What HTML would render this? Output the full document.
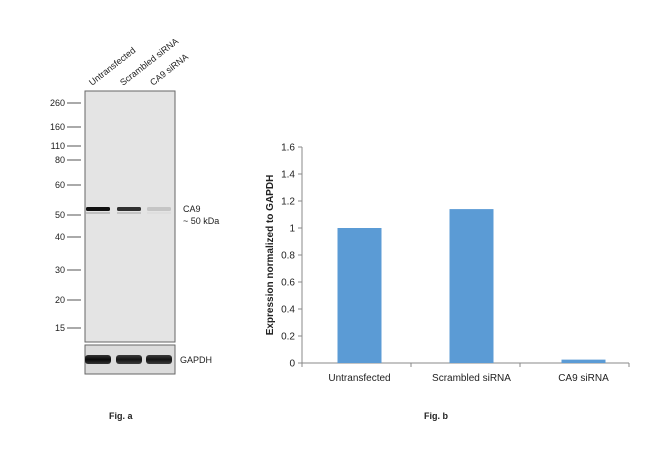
<!DOCTYPE html>
<html><head><meta charset="utf-8"><style>
body{margin:0;background:#fff;font-family:"Liberation Sans",Arial,sans-serif;}
#root{position:relative;width:650px;height:460px;overflow:hidden;background:#fff}
</style></head><body>
<div id="root">
<svg width="650" height="460" xmlns="http://www.w3.org/2000/svg" font-family="Liberation Sans, Arial, sans-serif">
<defs>
<linearGradient id="bandg" x1="0" y1="0" x2="0" y2="1"><stop offset="0" stop-color="#333"/><stop offset="0.5" stop-color="#0a0a0a"/><stop offset="1" stop-color="#333"/></linearGradient>
</defs>
<g>
<rect x="85" y="91" width="90" height="251" fill="#e4e4e4" stroke="#666" stroke-width="1"/>
<rect x="85" y="345" width="90" height="29" fill="#dcdcdc" stroke="#666" stroke-width="1"/>
<g id="lanelabels" font-size="9" fill="#222"></g>
<g id="markers" font-size="9" fill="#222"></g>
<g id="bands"></g>
<text x="183" y="212" font-size="9" fill="#222">CA9</text>
<text x="183" y="224" font-size="9" fill="#222">~ 50 kDa</text>
<text x="180" y="363" font-size="9" fill="#222">GAPDH</text>
<text x="109" y="419" font-size="9" font-weight="bold" fill="#222">Fig. a</text>
</g>
<g id="chart"></g>
<text x="424" y="419" font-size="9" font-weight="bold" fill="#222">Fig. b</text>
</svg>
</div>
<script>
const categories=["Untransfected","Scrambled siRNA","CA9 siRNA"];
const values=[1.0,1.14,0.025];
const yTicks=[0,0.2,0.4,0.6,0.8,1,1.2,1.4,1.6];
const markerLabels=["260","160","110","80","60","50","40","30","20","15"];
const markerY=[103,127,146,160,185,215,237,270,300,328];
const bandIntensity=[1.0,0.85,0.15];
const gapdhIntensity=[1.0,0.95,0.95];
const NS="http://www.w3.org/2000/svg";
function mk(t,a,p){const e=document.createElementNS(NS,t);for(const k in a)e.setAttribute(k,a[k]);p.appendChild(e);return e;}
// blot
const lanesX=[98,129,159];
const ll=document.getElementById('lanelabels');
categories.forEach((c,i)=>{const t=mk('text',{x:lanesX[i]-6,y:86,transform:`rotate(-38 ${lanesX[i]-6} 86)`},ll);t.textContent=c;

});
const mg=document.getElementById('markers');
markerLabels.forEach((m,i)=>{const t=mk('text',{x:65,y:markerY[i]+3,'text-anchor':'end'},mg);t.textContent=m;


const l=mk('line',{x1:67,x2:81,y1:markerY[i],y2:markerY[i],stroke:'#555','stroke-width':1},mg);

});
const bg=document.getElementById('bands');
bandIntensity.forEach((v,i)=>{const r=mk('rect',{x:lanesX[i]-12,y:207,width:24,height:4,rx:1.5,fill:'#111',opacity:v},bg);


const r2=mk('rect',{x:lanesX[i]-12,y:212,width:24,height:2,fill:'#999',opacity:v*0.5},bg);

});
gapdhIntensity.forEach((v,i)=>{const r=mk('rect',{x:lanesX[i]-13,y:355,width:26,height:9,rx:3,fill:'url(#bandg)',opacity:v},bg);

});
// chart
const ch=document.getElementById('chart');
const x0=302,x1=629,y0=363,yTop=147,ymax=1.6;
const Y=v=>y0-(v/ymax)*(y0-yTop);
const cw=(x1-x0)/categories.length;
const ax=mk('line',{x1:x0,x2:x0,y1:yTop,y2:y0,stroke:'#888','stroke-width':1},ch);

const xa=mk('line',{x1:x0,x2:x1,y1:y0,y2:y0,stroke:'#888','stroke-width':1},ch);

yTicks.forEach(v=>{const y=Y(v);
const tk=mk('line',{x1:x0-4,x2:x0,y1:y,y2:y,stroke:'#888'},ch);

const t=mk('text',{x:x0-7,y:y+3.5,'text-anchor':'end','font-size':10,fill:'#222'},ch);t.textContent=String(v);
});
for(let i=0;i<=categories.length;i++){const x=x0+i*cw;const tk=mk('line',{x1:x,x2:x,y1:y0,y2:y0+4,stroke:'#888'},ch);
}
categories.forEach((c,i)=>{const cx=x0+cw*(i+0.5)+3+i*3;const bw=44;
const b=mk('rect',{x:cx-bw/2,y:Y(values[i]),width:bw,height:y0-Y(values[i]),fill:'#5b9bd5'},ch);


const t=mk('text',{x:x0+cw*(i+0.5)+3+i*3,y:381,'text-anchor':'middle','font-size':10,fill:'#222'},ch);t.textContent=c;
});
const yt=mk('text',{x:273,y:255,'text-anchor':'middle','font-size':10,'font-weight':'bold',fill:'#222',transform:'rotate(-90 273 255)'},ch);
yt.textContent='Expression normalized to GAPDH';

</script>
</body></html>
